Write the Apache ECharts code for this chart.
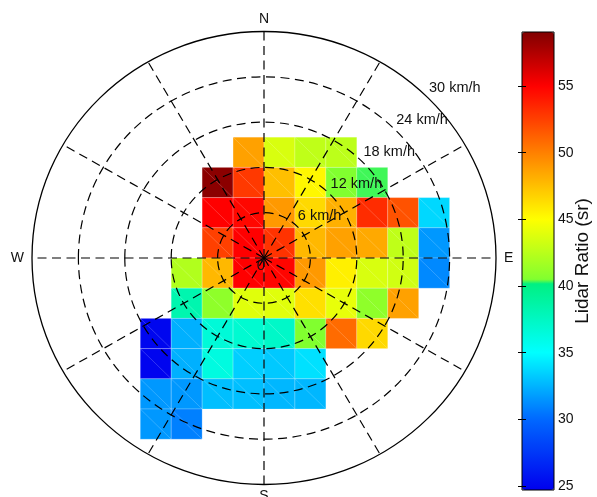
<!DOCTYPE html>
<html><head><meta charset="utf-8">
<script src="https://cdn.jsdelivr.net/npm/echarts@6/dist/echarts.min.js"></script>
<style>html,body{margin:0;padding:0;background:#fff}#c{width:597px;height:497px}</style>
</head><body><div id="c"></div>
<script>
// Wind components (km/h) of each bin centre: east (x) and north (y)
const colCenters = [-14, -10, -6, -2, 2, 6, 10, 14, 18, 22];
const rowCenters = [14, 10, 6, 2, -2, -6, -10, -14, -18, -22];
const binWidth = 4;
// Lidar ratio (sr), rows top (north) to bottom (south), columns west to east
const lidarRatio = [
  [null, null, null, 48.7, 43.6, 42.7, 42.6, null, null, null],
  [null, null, 58.7, 52.8, 47.5, 45.3, 40.5, 40.35, null, null],
  [null, null, 55.0, 54.7, 49.0, 46.5, 48.1, 53.3, 51.8, 33.7],
  [null, null, 52.5, 55.0, 53.0, 47.8, 48.7, 48.4, 42.7, 31.6],
  [null, 42.2, 47.8, 55.0, 54.8, 49.0, 45.6, 43.6, 43.3, 31.1],
  [null, 38.3, 41.0, 43.9, 43.9, 46.2, 44.2, 41.0, 48.7, null],
  [25.0, 32.4, 36.6, 36.9, 37.3, 40.5, 50.8, 46.5, null, null],
  [24.9, 32.4, 36.3, 33.4, 33.2, 34.0, null, null, null, null],
  [31.6, 31.6, 32.9, 32.9, 32.6, 32.6, null, null, null, null],
  [31.6, 30.8, null, null, null, null, null, null, null, null]
];
const ringValues = [6, 12, 18, 24, 30];
const ringLabelValues = [0, 6, 12, 18, 24, 30];
const spokeAngles = [0, 30, 60, 90, 120, 150, 180, 210, 240, 270, 300, 330];
const compassLabels = ['N', 'E', 'S', 'W'];
const compassAngles = [0, 90, 180, 270];
const colorbarTicks = [25, 30, 35, 40, 45, 50, 55];
const colorbarMin = 24.7;
const colorbarMax = 59.05;
const colorbarTitle = 'Lidar Ratio (sr)';

// colormap stops (style)
const cmapStops = [
  [24.7, [0, 0, 238]], [30, [0, 104, 255]], [35, [0, 255, 255]], [40.25, [0, 240, 128]],
  [40.45, [128, 255, 48]], [45, [255, 255, 0]], [50, [255, 128, 0]], [55, [255, 0, 0]], [59.05, [128, 0, 0]]
];
function cmap(v) {
  for (let k = 0; k < cmapStops.length - 1; k++) {
    const a = cmapStops[k], b = cmapStops[k + 1];
    if (v <= b[0] || k === cmapStops.length - 2) {
      const t = Math.max(0, Math.min(1, (v - a[0]) / (b[0] - a[0])));
      const c = a[1].map((x, i) => Math.round(x + (b[1][i] - x) * t));
      return 'rgb(' + c.join(',') + ')';
    }
  }
}
const cmapColors = [];
const NC = 400;
for (let i = 0; i <= NC; i++) cmapColors.push(cmap(colorbarMin + (colorbarMax - colorbarMin) * i / NC));

const cellData = [];
lidarRatio.forEach((row, r) => row.forEach((v, c) => {
  if (v !== null) cellData.push([colCenters[c], rowCenters[r], v]);
}));

const FONT = '"Liberation Sans", Arial, sans-serif';
const outerR = ringValues[ringValues.length - 1];
const DASH = [9, 5.5];

function renderCell(params, api) {
  const x = api.value(0), y = api.value(1);
  const p0 = api.coord([x - binWidth / 2, y + binWidth / 2]);
  const p1 = api.coord([x + binWidth / 2, y - binWidth / 2]);
  const color = api.visual('color');
  return { type: 'group', children: [
    { type: 'rect', shape: { x: p0[0], y: p0[1], width: p1[0] - p0[0], height: p1[1] - p0[1] },
      style: { fill: color, stroke: 'rgba(255,255,255,0.3)', lineWidth: 0.7 } },
    { type: 'line', shape: { x1: p0[0], y1: p0[1], x2: p1[0], y2: p1[1] },
      style: { stroke: 'rgba(255,255,255,0.28)', lineWidth: 0.7 } }
  ] };
}
function renderRing(params, api) {
  const r = api.value(0);
  const c = api.coord([0, 0]);
  const s = api.size([r * 2, r * 2]);
  const outer = r === outerR;
  return { type: 'ellipse', shape: { cx: c[0], cy: c[1], rx: s[0] / 2, ry: s[1] / 2 },
    style: { fill: 'none', stroke: '#000', lineWidth: outer ? 1.3 : 1.2, lineDash: outer ? null : DASH } };
}
function renderSpoke(params, api) {
  const a = api.value(0) * Math.PI / 180;
  const c = api.coord([0, 0]);
  const e = api.coord([outerR * Math.sin(a), outerR * Math.cos(a)]);
  return { type: 'line', shape: { x1: c[0], y1: c[1], x2: e[0], y2: e[1] },
    style: { stroke: '#000', lineWidth: 1.2, lineDash: DASH } };
}
function renderRingLabel(params, api) {
  const r = api.value(0);
  if (r === 0) {
    const c = api.coord([0, 0]);
    return { type: 'text', x: c[0] - 3, y: c[1] + 8,
      style: { text: '0', fill: '#111', font: '15px ' + FONT, align: 'center', verticalAlign: 'middle' } };
  }
  const p = api.coord([r * Math.SQRT1_2, r * Math.SQRT1_2]);
  return { type: 'text', x: p[0] + 1, y: p[1] - 2,
    style: { text: r + ' km/h', fill: '#111', font: '14.5px ' + FONT, align: 'left', verticalAlign: 'bottom' } };
}
function renderCompass(params, api) {
  const idx = params.dataIndex;
  const a = api.value(0) * Math.PI / 180;
  const p = api.coord([outerR * Math.sin(a), outerR * Math.cos(a)]);
  const dx = Math.sin(a), dy = -Math.cos(a);
  return { type: 'text', x: p[0] + dx * 8, y: p[1] + dy * 5,
    style: { text: compassLabels[idx], fill: '#111', font: '14px ' + FONT,
      align: dx > 0.5 ? 'left' : (dx < -0.5 ? 'right' : 'center'),
      verticalAlign: dy < -0.5 ? 'bottom' : (dy > 0.5 ? 'top' : 'middle') } };
}

const chart = echarts.init(document.getElementById('c'), null, { renderer: 'canvas' });
chart.setOption({
  animation: false,
  backgroundColor: '#fff',
  textStyle: { fontFamily: FONT },
  grid: [
    { left: 32, width: 464, top: 31.5, height: 453, show: false },
    { left: 522, top: 32, width: 32, height: 458, show: true, borderColor: '#000', borderWidth: 1, backgroundColor: 'transparent', z: 5 }
  ],
  xAxis: [
    { gridIndex: 0, type: 'value', min: -30, max: 30, show: false },
    { gridIndex: 1, type: 'value', min: 0, max: 1, show: false }
  ],
  yAxis: [
    { gridIndex: 0, type: 'value', min: -30, max: 30, show: false },
    { gridIndex: 1, type: 'value', min: colorbarMin, max: colorbarMax, position: 'right', z: 6,
      axisLine: { show: false }, splitLine: { show: false },
      axisTick: { show: true, inside: true, length: 4, customValues: colorbarTicks, lineStyle: { color: '#000' } },
      axisLabel: { customValues: colorbarTicks, margin: 4, fontSize: 14, color: '#111', fontFamily: FONT },
      name: colorbarTitle, nameLocation: 'middle', nameGap: 19, nameRotate: 90, nameMoveOverlap: false,
      nameTextStyle: { fontSize: 19, color: '#111', fontFamily: FONT } },
    { gridIndex: 1, type: 'value', min: colorbarMin, max: colorbarMax, position: 'left', z: 6,
      axisLine: { show: false }, splitLine: { show: false },
      axisTick: { show: true, inside: true, length: 4, customValues: colorbarTicks, lineStyle: { color: '#000' } },
      axisLabel: { show: false } }
  ],
  visualMap: {
    type: 'continuous', min: colorbarMin, max: colorbarMax, seriesIndex: 0, dimension: 2,
    show: true, calculable: false, left: 522, top: 32, itemWidth: 32, itemHeight: 458,
    padding: 0, z: 1, inRange: { color: cmapColors }, hoverLink: false
  },
  series: [
    { type: 'custom', xAxisIndex: 0, yAxisIndex: 0, z: 1, silent: true, renderItem: renderCell, data: cellData },
    { type: 'custom', xAxisIndex: 0, yAxisIndex: 0, z: 3, silent: true, renderItem: renderRing, data: ringValues.map(v => [v, 0]) },
    { type: 'custom', xAxisIndex: 0, yAxisIndex: 0, z: 3, silent: true, renderItem: renderSpoke, data: spokeAngles.map(v => [v, 0]) },
    { type: 'custom', xAxisIndex: 0, yAxisIndex: 0, z: 4, silent: true, renderItem: renderRingLabel, data: ringLabelValues.map(v => [v, 0]) },
    { type: 'custom', xAxisIndex: 0, yAxisIndex: 0, z: 4, silent: true, renderItem: renderCompass, data: compassAngles.map(v => [v, 0]) }
  ]
});
</script></body></html>
